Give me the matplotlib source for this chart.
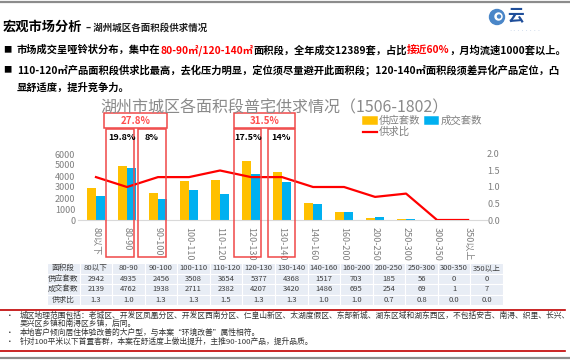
import matplotlib
matplotlib.use('Agg')
import matplotlib.pyplot as plt
import numpy as np
from matplotlib.lines import Line2D
from matplotlib.patches import Rectangle, Circle

plt.rcParams['font.family'] = ['Noto Sans CJK SC', 'DejaVu Sans']

# data
categories = ["80以下", "80-90", "90-100", "100-110", "110-120", "120-130", "130-140",
              "140-160", "160-200", "200-250", "250-300", "300-350", "350以上"]
supply = [2942, 4935, 2456, 3508, 3654, 5377, 4368, 1517, 703, 185, 56, 0, 0]
deals = [2139, 4762, 1938, 2711, 2382, 4207, 3420, 1486, 695, 254, 69, 1, 7]
ratio = [1.3, 1.0, 1.3, 1.3, 1.5, 1.3, 1.3, 1.0, 1.0, 0.7, 0.8, 0.0, 0.0]

notes = [
    ("•", "城区地理范围包括：老城区、开发区凤凰分区、开发区西南分区、仁皇山新区、太湖度假区、东部新城、湖东区域和湖东西区，不包括安吉、南浔、织里、长兴、"),
    ("", "吴兴区乡镇和南浔区乡镇，后同。"),
    ("•", "本地客户倾向居住体验改善的大户型，与本案“环境改善”属性相符。"),
    ("•", "针对100平米以下首置客群，本案在舒适度上做出提升，主推90-100产品，提升品质。"),
]

YELLOW = '#FFC000'
BLUE = '#00B0F0'
RED = '#FF0000'
BOXRED = '#F04848'
GREY = '#7F7F7F'

W, H = 570, 360
fig = plt.figure(figsize=(5.7, 3.6), dpi=100)


def fx(x):
    return x / W


def fy(y):
    return 1 - y / H


def hline(y, x0, x1, color, lw):
    fig.add_artist(Line2D([fx(x0), fx(x1)], [fy(y), fy(y)], color=color, lw=lw,
                          transform=fig.transFigure))


def box(x0, y0, x1, y1, color=BOXRED, fill=False):
    fig.add_artist(Rectangle((fx(x0), fy(y1)), fx(x1) - fx(x0), fy(y0) - fy(y1),
                             fill=fill, fc=color, ec=color, lw=1.1,
                             transform=fig.transFigure))


def rich(x, y, parts, **kw):
    r = fig.canvas.get_renderer()
    for s, c in parts:
        t = fig.text(fx(x), fy(y), s, color=c, va='center', ha='left', **kw)
        x = t.get_window_extent(r).x1
    return x


# frame lines
hline(1.5, 0, 570, '#8C8C8C', 1.6)
hline(358, 0, 570, '#8C8C8C', 1.6)

# header
x = rich(3, 27, [("宏观市场分析", 'black')], fontsize=9.5, fontweight='bold')
rich(x + 3, 28, [("– 湖州城区各面积段供求情况", '#222222')], fontsize=6.8, fontweight='bold')

# logo
fig.add_artist(Circle((4.97, 3.6 - 0.17), 0.075, color='#4A86C8', transform=fig.dpi_scale_trans))
fig.add_artist(Circle((4.985, 3.6 - 0.165), 0.035, color='white', transform=fig.dpi_scale_trans))
fig.add_artist(Circle((4.99, 3.6 - 0.165), 0.015, color='#4A86C8', transform=fig.dpi_scale_trans))
fig.text(fx(507), fy(16), "云", color='#1F4E9A', fontsize=12, fontweight='bold', va='center')
fig.text(fx(508), fy(31), "········", color='#9FB6D6', fontsize=3, va='center')

# bullets
fig.text(fx(3), fy(50), "■", fontsize=6, va='center')
rich(17, 50, [("市场成交呈哑铃状分布，集中在", 'black'), ("80-90㎡/120-140㎡", RED),
              ("面积段，全年成交12389套，占比", 'black'), ("接近60%", RED),
              ("，月均流速1000套以上。", 'black')], fontsize=7.4, fontweight='bold')
fig.text(fx(3), fy(70), "■", fontsize=6, va='center')
rich(17, 70, [("110-120㎡产品面积段供求比最高，去化压力明显，定位须尽量避开此面积段；120-140㎡面积段须差异化产品定位，凸", 'black')],
     fontsize=7.4, fontweight='bold')
rich(17, 88, [("显舒适度，提升竞争力。", 'black')], fontsize=7.4, fontweight='bold')

# chart title
fig.text(fx(274), fy(108), "湖州市城区各面积段普宅供求情况（1506-1802）", color='#8A8A8A',
         fontsize=11.5, ha='center', va='center')

# legend
box(363, 117, 377, 124, YELLOW, fill=True)
fig.text(fx(379), fy(121), "供应套数", color=GREY, fontsize=7.5, va='center')
box(425, 117, 438, 124, BLUE, fill=True)
fig.text(fx(441), fy(121), "成交套数", color=GREY, fontsize=7.5, va='center')
hline(132, 363, 377, RED, 1.6)
fig.text(fx(379), fy(132), "供求比", color=GREY, fontsize=7.5, va='center')

# chart
ax = fig.add_axes([fx(78), fy(220), (487 - 78) / W, 66 / H])
xs = np.arange(len(categories))
ax.bar(xs - 0.15, supply, 0.3, color=YELLOW)
ax.bar(xs + 0.15, deals, 0.3, color=BLUE)
ax.set_xlim(-0.58, 12.61)
ax.set_ylim(0, 6000)
ax.set_yticks(range(0, 7000, 1000))
ax.set_xticks(xs)
ax.set_xticklabels(categories, rotation=-90, va='top')
ax.tick_params(length=0, labelcolor=GREY, labelsize=6.5, pad=2)
ax.tick_params(axis='x', pad=5)
for s in ['top', 'right', 'left']:
    ax.spines[s].set_visible(False)
ax.spines['bottom'].set_color('#D9D9D9')

ax2 = ax.twinx()
ax2.plot(xs, ratio, color=RED, lw=1.6)
ax2.set_ylim(0, 2)
ax2.set_yticks([0, 0.5, 1.0, 1.5, 2.0])
ax2.set_yticklabels([f"{v:.1f}" for v in [0, 0.5, 1.0, 1.5, 2.0]])
ax2.tick_params(length=0, labelcolor=GREY, labelsize=6.5, pad=0)
for s in ax2.spines.values():
    s.set_visible(False)

# highlight boxes
box(104, 113, 167, 128)
box(234, 113, 295, 128)
box(106, 129, 134, 257)
box(138, 129, 166, 257)
box(234, 129, 261, 257)
box(268, 129, 295, 257)
fig.text(fx(136), fy(121), "27.8%", color='#FF4D4D', fontsize=7, fontweight='bold', ha='center', va='center')
fig.text(fx(265), fy(121), "31.5%", color='#FF4D4D', fontsize=7, fontweight='bold', ha='center', va='center')
for px, s in [(122, "19.8%"), (152, "8%"), (248, "17.5%"), (281, "14%")]:
    fig.text(fx(px), fy(137), s, color='black', fontsize=6.5, fontweight='bold', ha='center', va='center')

# table
tax = fig.add_axes([fx(47), fy(305), (503 - 47) / W, (305 - 263) / H])
tax.axis('off')
cells = [["面积段"] + categories,
         ["供应套数"] + [str(v) for v in supply],
         ["成交套数"] + [str(v) for v in deals],
         ["供求比"] + [f"{v:.1f}" for v in ratio]]
tbl = tax.table(cellText=cells, cellLoc='center', bbox=[0, 0, 1, 1])
tbl.auto_set_font_size(False)
tbl.set_fontsize(5.5)
for cell in tbl.get_celld().values():
    cell.set_facecolor('#E8EDF5')
    cell.set_edgecolor('white')
    cell.set_linewidth(0.8)
    cell.get_text().set_color('#404040')

# notes
hline(310, 0, 565, '#C00000', 1.2)
hline(351, 0, 565, '#C00000', 1.2)
for (b, s), y in zip(notes, [316, 324, 333, 342]):
    if b:
        fig.text(fx(6), fy(y), b, fontsize=5.6, va='center', color='#333333')
    fig.text(fx(20), fy(y), s, fontsize=5.6, va='center', color='#333333')

fig.savefig('out.png', dpi=100)
